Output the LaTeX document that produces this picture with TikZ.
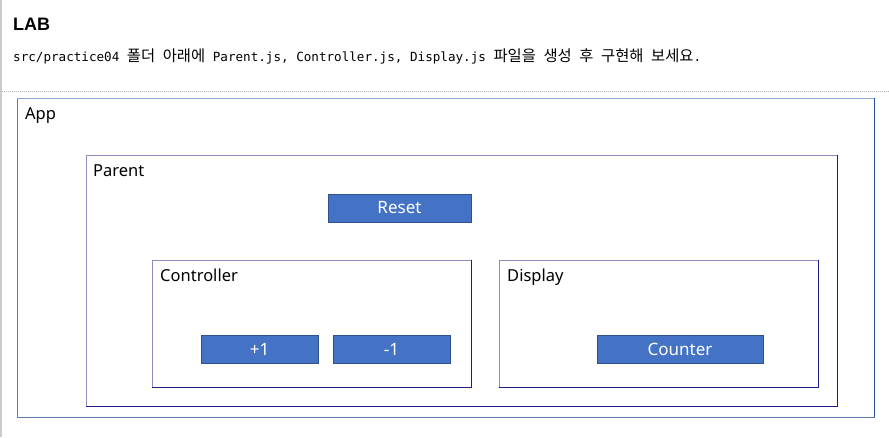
\documentclass[tikz,border=0pt]{standalone}
\usepackage{fontspec}
\usetikzlibrary{positioning}

\newfontfamily\uifont{Noto Sans}
\newfontfamily\headfont{Liberation Sans}
\newfontfamily\codefont{DejaVu Sans Mono}
\newfontfamily\krfont[Scale=1.22]{Noto Sans CJK KR}
\newcommand{\kr}[1]{{\krfont #1}}

\definecolor{btnfill}{HTML}{4472C4}
\definecolor{btnline}{HTML}{2F528F}
\definecolor{applight}{HTML}{8CA6D8}
\definecolor{appmid}{HTML}{5F7AAE}
\definecolor{appdark}{HTML}{2B4C9B}
\definecolor{boxlight}{HTML}{8C8CBE}
\definecolor{boxdark}{HTML}{1C1C8C}

\begin{document}
\begin{tikzpicture}[x=1pt,y=-1pt,
						frame/.style={draw=boxlight,line width=1pt,inner sep=0pt,outer sep=0pt,anchor=north west},
						btn/.style={draw=btnline,fill=btnfill,line width=1pt,text=white,inner sep=0pt,outer sep=0pt,
							minimum height=28pt,font=\uifont\fontsize{17}{18}\selectfont},
						lbl/.style={inner sep=0pt,anchor=base west,font=\uifont\fontsize{16.5}{18}\selectfont},
						shade/.style={draw=boxdark,line width=1pt}]
		\useasboundingbox (0,0) rectangle (889,437);
		\draw[gray!40,line width=1.5pt] (0.75,0) -- (0.75,437);
		\draw[gray!60,line width=1pt,dash pattern=on 1pt off 1pt] (1.5,91) -- (889,91);

		\node[anchor=base west,inner sep=0pt,font=\headfont\bfseries\fontsize{18}{20}\selectfont]	(title)	at (13,30)	{LAB};
		\node[anchor=base west,inner sep=0pt,font=\codefont\fontsize{12.6}{14}\selectfont]		(desc)	at (13,61)
			{src/practice04 \kr{폴더} \kr{아래에} Parent.js, Controller.js, Display.js \kr{파일을} \kr{생성} \kr{후} \kr{구현해} \kr{보세요}.};

		\node[frame,draw=appmid,minimum width=857pt,minimum height=319pt]				(app)		at (17,98)	{};
		\node[frame,minimum width=751pt,minimum height=251pt,below right=57pt and 69pt of app.north west]	(parent)	{};
		\node[btn,anchor=north west,minimum width=143pt,below right=39pt and 242pt of parent.north west]	(reset)		{Reset};
		\node[frame,minimum width=319pt,minimum height=127pt,below right=105pt and 66pt of parent.north west]	(ctrl)	{};
		\node[frame,minimum width=319pt,minimum height=127pt,right=28pt of ctrl]				(disp)		{};
		\node[btn,minimum width=117pt,below right=75pt and 49pt of ctrl.north west]			(plus)		{+1};
		\node[btn,minimum width=117pt,right=15pt of plus]							(minus)		{-1};
		\node[btn,minimum width=166pt,below right=75pt and 98pt of disp.north west]			(counter)	{Counter};

		\node[lbl] (applbl)	at ([xshift=8pt,yshift=-21pt]app.north west)		{App};
		\node[lbl] (parentlbl)	at ([xshift=7pt,yshift=-21pt]parent.north west)	{Parent};
		\node[lbl] (ctrllbl)	at ([xshift=8pt,yshift=-21pt]ctrl.north west)		{Controller};
		\node[lbl] (displbl)	at ([xshift=8pt,yshift=-21pt]disp.north west)		{Display};

		\draw[applight,line width=1pt] (app.north west) -- (app.north east);
		\draw[appdark,line width=1pt] (app.north east) -- (app.south east);
		\foreach \b in {parent,ctrl,disp}
			\draw[shade] (\b.north east) -- (\b.south east) -- (\b.south west);
	\end{tikzpicture}
\end{document}
